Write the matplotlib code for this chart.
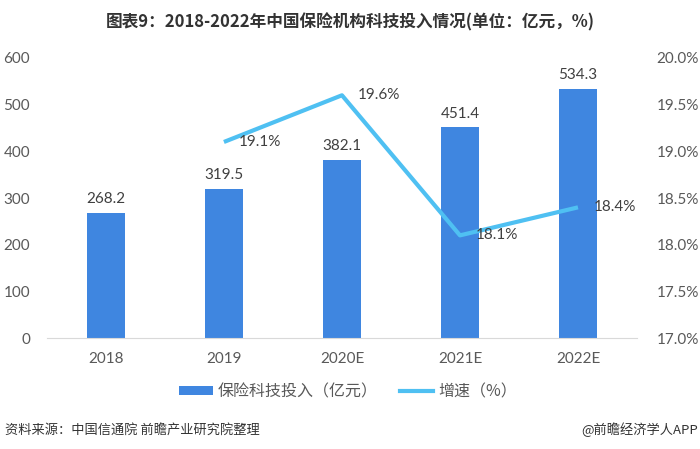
import matplotlib
matplotlib.use("Agg")
import matplotlib.pyplot as plt
from matplotlib.patches import Patch
from matplotlib.lines import Line2D

plt.rcParams['font.family'] = ['Noto Sans CJK SC', 'DejaVu Sans']

categories = ["2018", "2019", "2020E", "2021E", "2022E"]
investment = [268.2, 319.5, 382.1, 451.4, 534.3]
growth_years = ["2019", "2020E", "2021E", "2022E"]
growth = [19.1, 19.6, 18.1, 18.4]
left_ticks = [0, 100, 200, 300, 400, 500, 600]
right_ticks = [17.0, 17.5, 18.0, 18.5, 19.0, 19.5, 20.0]

bar_color = "#3F86E0"
line_color = "#4FC0F2"
text_color = "#595959"
num_font = ['Lato', 'DejaVu Sans']

fig = plt.figure(figsize=(7.0, 4.49), dpi=100)
ax = fig.add_axes([0.067, 0.247, 0.843, 0.624])
ax2 = ax.twinx()

x = list(range(len(categories)))
ax.bar(x, investment, width=0.32, color=bar_color, zorder=2)
for xi, v in zip(x, investment):
    ax.text(xi, v + 14, f"{v:.1f}", ha="center", va="bottom", fontsize=11,
            color="#404040", family=num_font)

gx = [categories.index(c) for c in growth_years]
ax2.plot(gx, growth, color=line_color, lw=3, zorder=3, solid_capstyle="butt")
for xi, v in zip(gx, growth):
    ax2.text(xi + 0.13, v, f"{v:.1f}%", ha="left", va="center", fontsize=11,
             color="#404040", family=num_font)

ax.set_xlim(-0.5, 4.5)
ax.set_ylim(0, 600)
ax.set_yticks(left_ticks)
ax.set_yticklabels([str(t) for t in left_ticks], family=num_font)
ax2.set_ylim(17.0, 20.0)
ax2.set_yticks(right_ticks)
ax2.set_yticklabels([f"{t:.1f}%" for t in right_ticks], family=num_font)
ax.set_xticks(x)
ax.set_xticklabels(categories, family=num_font)

for a in (ax, ax2):
    for s in a.spines.values():
        s.set_visible(False)
    a.tick_params(length=0, labelsize=11, colors=text_color)
ax.spines["bottom"].set_visible(True)
ax.spines["bottom"].set_color("#D9D9D9")
ax.tick_params(axis="x", pad=10)
ax.tick_params(axis="y", pad=12)
ax2.tick_params(axis="y", pad=14)

handles = [Patch(facecolor=bar_color, edgecolor="none"),
           Line2D([0], [0], color=line_color, lw=3)]
fig.legend(handles, ["保险科技投入（亿元）", "增速（%）"], loc="center",
           bbox_to_anchor=(0.497, 0.128), ncol=2, frameon=False, fontsize=11.5,
           handlelength=2.1, handleheight=0.55, columnspacing=1.4,
           handletextpad=0.3, labelcolor=text_color)

fig.text(0.5, 0.951, "图表9：2018-2022年中国保险机构科技投入情况(单位：亿元，%)",
         ha="center", va="center", fontsize=12, fontweight="bold", color="#333333")
fig.text(0.007, 0.042, "资料来源：中国信通院 前瞻产业研究院整理", ha="left", va="center",
         fontsize=9.5, color="#333333")
fig.text(0.997, 0.042, "@前瞻经济学人APP", ha="right", va="center",
         fontsize=9.5, color="#333333")

fig.savefig("out.png", dpi=100)
